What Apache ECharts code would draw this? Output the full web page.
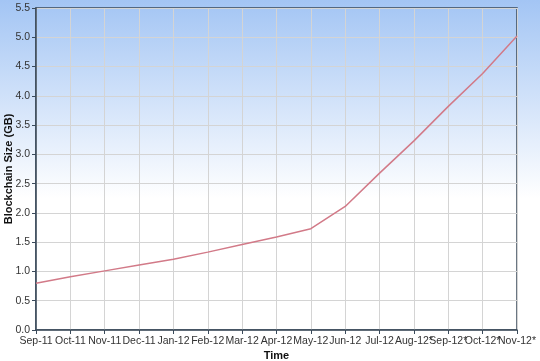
<!DOCTYPE html>
<html><head><meta charset="utf-8">
<script src="https://cdn.jsdelivr.net/npm/echarts@6/dist/echarts.min.js"></script>
<style>html,body{margin:0;padding:0;}#c{width:540px;height:361px;}</style>
</head><body><div id="c"></div>
<script>
const months = ['Sep-11','Oct-11','Nov-11','Dec-11','Jan-12','Feb-12','Mar-12','Apr-12','May-12','Jun-12','Jul-12','Aug-12*','Sep-12*','Oct-12*','Nov-12*'];
const sizeGB = [0.80,0.91,1.01,1.11,1.21,1.33,1.46,1.59,1.73,2.11,2.68,3.23,3.82,4.38,5.02];
const chart = echarts.init(document.getElementById('c'));
const lab = {color:'#333', fontFamily:'Liberation Sans, Arial, sans-serif', fontSize:10.5};
chart.setOption({
  animation:false,
  backgroundColor:{type:'linear',x:0,y:0,x2:0,y2:1,colorStops:[{offset:0,color:'#a3c5f4'},{offset:0.55,color:'#ffffff'},{offset:1,color:'#ffffff'}]},
  grid:{left:36,right:23,top:8,bottom:31,containLabel:false,outerBoundsMode:'none',show:true,borderColor:'#3a4a5a',borderWidth:1.5,backgroundColor:'transparent'},
  xAxis:{type:'category',data:months,boundaryGap:false,
    name:'Time',nameLocation:'middle',nameGap:20,nameMoveOverlap:false,
    nameTextStyle:{color:'#111',fontWeight:'bold',fontFamily:'Liberation Sans, Arial, sans-serif',fontSize:11},
    axisLine:{lineStyle:{color:'#3a4a5a',width:1.5}},
    axisTick:{show:true,length:4,lineStyle:{color:'#3a4a5a'}},
    axisLabel:Object.assign({interval:0,margin:6},lab),
    splitLine:{show:true,lineStyle:{color:'#d4d4d4',width:1}}},
  yAxis:{type:'value',min:0,max:5.5,interval:0.5,
    name:'Blockchain Size (GB)',nameLocation:'middle',nameGap:22,nameMoveOverlap:false,
    nameTextStyle:{color:'#111',fontWeight:'bold',fontFamily:'Liberation Sans, Arial, sans-serif',fontSize:11},
    axisLine:{show:true,lineStyle:{color:'#3a4a5a',width:1.5}},
    axisTick:{show:true,length:4,lineStyle:{color:'#3a4a5a'}},
    axisLabel:Object.assign({margin:6,formatter:v=>v.toFixed(1)},lab),
    splitLine:{show:true,lineStyle:{color:'#d4d4d4',width:1}}},
  series:[{type:'line',data:sizeGB,symbol:'none',lineStyle:{color:'#d27a88',width:1.5}}]
});
</script></body></html>
